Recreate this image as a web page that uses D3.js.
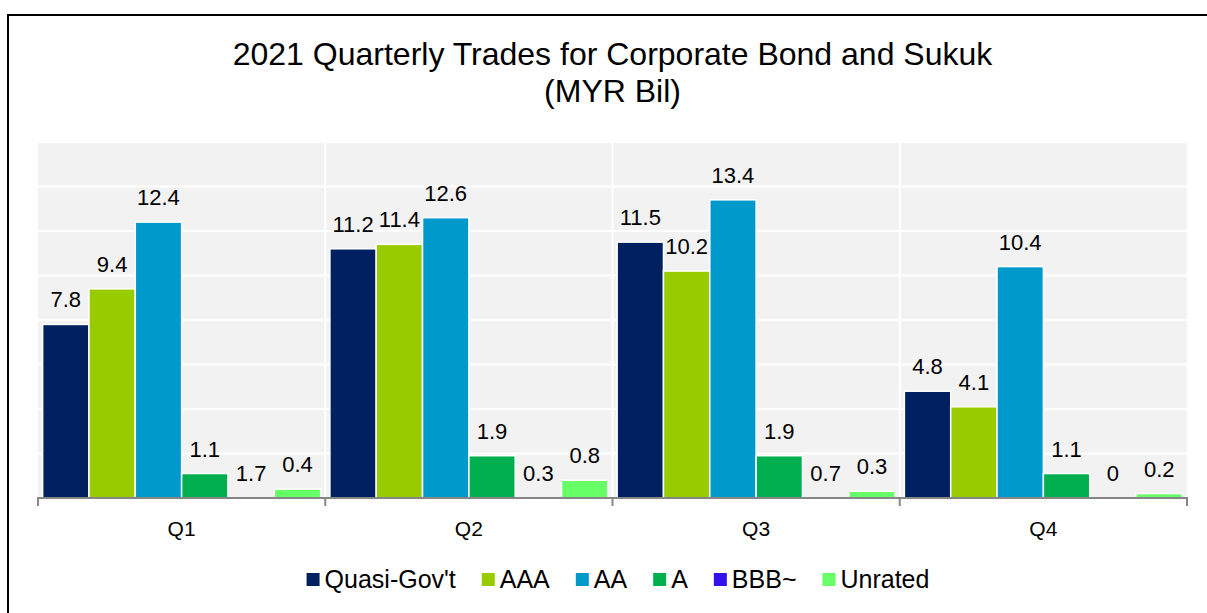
<!DOCTYPE html>
<html>
<head>
	<meta charset="utf-8">
	<title>2021 Quarterly Trades for Corporate Bond and Sukuk</title>
	<style>
		html, body { margin:0; padding:0; background:#fff; }
		body { font-family: "Liberation Sans", Arial, Helvetica, sans-serif; }
		#plotbg { fill: #f2f2f2; }
		.grid { stroke: #fff; stroke-width: 2px; }
		.axis { stroke: #868686; stroke-width: 2px; fill: none; }
		.lbl { font-size: 22px; fill: #000; text-anchor: middle; }
		.cat { font-size: 21px; fill: #000; text-anchor: middle; }
		#title { font-size: 32px; text-anchor: middle; }
		.leg { font-size: 25px; }
	</style>
	<script src="https://d3js.org/d3.v7.min.js"></script>
</head>
<body>
<svg id="chart"></svg>
<script>

	//data
	var quarters = ["Q1","Q2","Q3","Q4"];
	var seriesNames = ["Quasi-Gov't","AAA","AA","A","BBB~","Unrated"];
	var seriesColors = ["#002060","#99cc00","#0099cc","#00b050","#3311ee","#66ff66"];
	var quasiGov = [7.8, 11.2, 11.5, 4.8];
	var aaa = [9.4, 11.4, 10.2, 4.1];
	var aa = [12.4, 12.6, 13.4, 10.4];
	var singleA = [1.1, 1.9, 1.9, 1.1];
	//BBB~ bars sit on the baseline in the picture, only their labels show
	var bbb = [0, 0, 0, 0];
	var bbbLabels = ["1.7","0.3","0.7","0"];
	var unrated = [0.4, 0.8, 0.3, 0.2];
	var yTicks = [0,2,4,6,8,10,12,14,16];

	var seriesValues = [quasiGov, aaa, aa, singleA, bbb, unrated];

	var W = 1207, H = 613;
	var svg = d3.select("#chart").attr("width", W).attr("height", H);

	//outer frame (runs off right/bottom edge)
	svg.append("rect").attr("x",8).attr("y",15).attr("width",1400).attr("height",800)
		.style("fill","#fff").style("stroke","#000").style("stroke-width","2px");

	//title
	var title = svg.append("text").attr("id","title");
	title.append("tspan").attr("x",612.5).attr("y",65).text("2021 Quarterly Trades for Corporate Bond and Sukuk");
	title.append("tspan").attr("x",612.5).attr("y",102).text("(MYR Bil)");

	//scales
	var pL = 38, pR = 1187, pT = 142, pB = 498;
	var x0 = d3.scaleBand().domain(quarters).range([pL, pR]).paddingInner(0).paddingOuter(0);
	var x1 = d3.scaleBand().domain(seriesNames).range([0, x0.bandwidth()]).paddingOuter(0.1).paddingInner(0);
	var y = d3.scaleLinear().domain([0,16]).range([pB, pT]);

	//plot background + grid
	svg.append("rect").attr("id","plotbg").attr("x",pL).attr("y",pT).attr("width",pR-pL).attr("height",pB-pT);
	svg.append("g").selectAll("line").data(yTicks.slice(1)).enter().append("line").attr("class","grid")
		.attr("x1",pL).attr("x2",pR).attr("y1",function(d){return y(d);}).attr("y2",function(d){return y(d);});
	svg.append("g").selectAll("line").data(quarters.slice(1)).enter().append("line").attr("class","grid")
		.attr("x1",function(d){return x0(d);}).attr("x2",function(d){return x0(d);}).attr("y1",pT).attr("y2",pB);

	//bars
	var groups = svg.append("g").selectAll("g").data(quarters).enter().append("g")
		.attr("transform", function(q){ return "translate("+x0(q)+",0)"; });

	groups.each(function(q, qi){
		var gq = d3.select(this);
		seriesNames.forEach(function(s, si){
			var v = seriesValues[si][qi];
			gq.append("rect")
				.attr("x", x1(s)).attr("width", x1.bandwidth())
				.attr("y", y(v)).attr("height", pB - y(v))
				.style("fill", seriesColors[si])
				.style("stroke", v > 0 ? "#fff" : "none").style("stroke-width","1.5px");
			var txt = si === 4 ? bbbLabels[qi] : String(v);
			gq.append("text").attr("class","lbl")
				.attr("x", x1(s) + x1.bandwidth()/2)
				.attr("y", y(v) - 17)
				.text(txt);
		});
	});

	//x axis
	var xa = svg.append("g");
	xa.append("line").attr("class","axis").attr("x1",pL-1).attr("x2",pR+1).attr("y1",pB).attr("y2",pB);
	var tickX = quarters.map(function(q){ return x0(q); }).concat([pR]);
	xa.selectAll("line.tk").data(tickX).enter().append("line").attr("class","axis tk")
		.attr("x1",function(d){return d;}).attr("x2",function(d){return d;}).attr("y1",pB).attr("y2",pB+8);
	xa.selectAll("text").data(quarters).enter().append("text").attr("class","cat")
		.attr("x",function(q){ return x0(q) + x0.bandwidth()/2; }).attr("y",536).text(function(q){return q;});

	//legend
	var lg = svg.append("g");
	var cx = 0;
	seriesNames.forEach(function(s, i){
		var it = lg.append("g");
		it.append("rect").attr("x",cx).attr("y",-15).attr("width",13).attr("height",13).style("fill",seriesColors[i]);
		var t = it.append("text").attr("class","leg").attr("x",cx+18).attr("y",0).text(s);
		cx += 18 + t.node().getComputedTextLength() + 26;
	});
	var total = cx - 26;
	lg.attr("transform","translate("+(618 - total/2)+",588)");

</script>
</body>
</html>
